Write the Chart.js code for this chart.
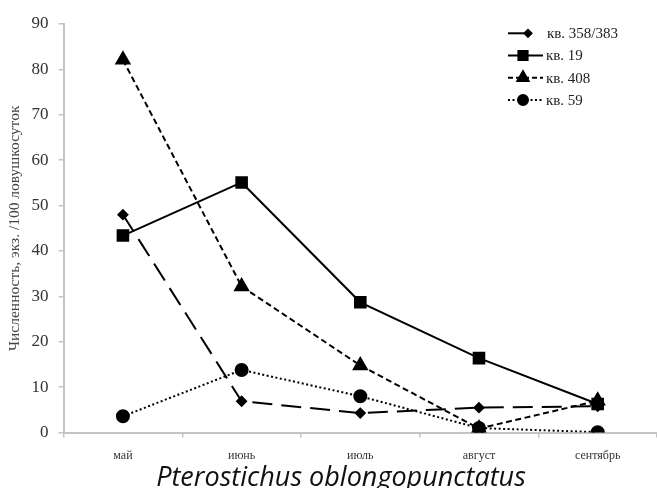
<!DOCTYPE html>
<html>
<head>
<meta charset="utf-8">
<script src="https://cdn.jsdelivr.net/npm/chart.js@4.4.0/dist/chart.umd.min.js"></script>
<style>
  html, body { margin: 0; padding: 0; background: #fff; }
  #wrap { width: 657px; height: 488px; }
</style>
</head>
<body>
<div id="wrap"><canvas id="myChart" width="657" height="488"></canvas></div>
<script>
// months
var months = ['май', 'июнь', 'июль', 'август', 'сентябрь'];
// series
var kv358 = [48.0, 6.9, 4.3, 5.5, 5.8];
var kv19 = [43.4, 55.1, 28.7, 16.4, 6.3];
var kv408 = [82.1, 32.2, 14.8, 0.9, 7.0];
var kv59 = [3.6, 13.8, 8.0, 1.0, 0.1];
var seriesNames = ['кв. 358/383', 'кв. 19', 'кв. 408', 'кв. 59'];
var titleText = 'Pterostichus oblongopunctatus';

var serif = '"Liberation Serif", "DejaVu Serif", serif';

// legend drawn by hand so the line styles show like in the picture,
// title under the axis drawn here too
var lineLegend = {
    id: 'lineLegend',
    afterDraw: function(chart){
        var ctx = chart.ctx;
        var x0 = 508, y0 = 33.3, rowH = 22.2;
        chart.data.datasets.forEach(function(ds, i){
            var y = y0 + i * rowH;
            var x1 = i == 0 ? 530 : 543;
            var px = i == 0 ? 528 : 523;
            ctx.save();
            ctx.strokeStyle = '#000';
            ctx.lineWidth = 2;
            ctx.setLineDash(i == 0 ? [] : (i == 2 ? [5, 3] : ds.borderDash));
            ctx.beginPath();
            ctx.moveTo(x0, y);
            ctx.lineTo(x1, y);
            ctx.stroke();
            ctx.setLineDash([]);
            ctx.fillStyle = '#000';
            ctx.strokeStyle = '#000';
            Chart.helpers.drawPoint(ctx, {pointStyle: ds.pointStyle, radius: ds.pointRadius - 1, rotation: 0, borderWidth: 1}, px, y);
            ctx.fillStyle = '#222';
            ctx.font = '15px ' + serif;
            ctx.textBaseline = 'middle';
            ctx.fillText(ds.label, i == 0 ? 547 : 546, y + 1);
            ctx.restore();
        });
        ctx.save();
        ctx.fillStyle = '#111';
        ctx.font = 'italic 27px "Open Sans", sans-serif';
        ctx.textAlign = 'center';
        ctx.textBaseline = 'alphabetic';
        ctx.fillText(titleText, 341, 486);
        ctx.restore();
    }
};

function makeSet(label, data, dash, style, r){
    return {
        label: label,
        data: data,
        borderColor: '#000',
        backgroundColor: '#000',
        pointBackgroundColor: '#000',
        pointBorderColor: '#000',
        borderWidth: 2,
        borderDash: dash,
        pointStyle: style,
        pointRadius: r,
        pointHoverRadius: r,
        tension: 0
    };
}

var ctx = document.getElementById('myChart').getContext('2d');
var chart = new Chart(ctx, {
    type: 'line',
    data: {
        labels: months,
        datasets: [
            makeSet(seriesNames[0], kv358, [20, 9], 'rectRot', 4.5),
            makeSet(seriesNames[1], kv19, [], 'rect', 7.5),
            makeSet(seriesNames[2], kv408, [6, 3.5], 'triangle', 7.5),
            makeSet(seriesNames[3], kv59, [2, 2.5], 'circle', 6)
        ]
    },
    options: {
        responsive: false,
        animation: false,
        layout: { autoPadding: false, padding: { top: 24, right: 0, left: 6, bottom: 13 } },
        plugins: {
            legend: { display: false },
            tooltip: { enabled: false },
            title: { display: false }
        },
        scales: {
            x: {
                offset: true,
                grid: { display: true, offset: true, drawOnChartArea: false, tickLength: 5, color: '#c4c4c4', lineWidth: 1.5 },
                border: { color: '#c4c4c4', width: 2 },
                ticks: { color: '#333', font: { family: serif, size: 12 }, padding: 11.5, maxRotation: 0 }
            },
            y: {
                min: 0,
                max: 90,
                ticks: { stepSize: 10, color: '#333', font: { family: serif, size: 17 }, padding: 10 },
                grid: { display: true, drawOnChartArea: false, tickLength: 5, color: '#c4c4c4', lineWidth: 1.5 },
                border: { color: '#c4c4c4', width: 2 },
                title: {
                    display: true,
                    text: 'Численность, экз. /100 ловушкосуток',
                    color: '#444',
                    font: { family: serif, size: 15.5 },
                    padding: { top: 0, bottom: -3 }
                }
            }
        }
    },
    plugins: [lineLegend]
});
</script>
</body>
</html>
